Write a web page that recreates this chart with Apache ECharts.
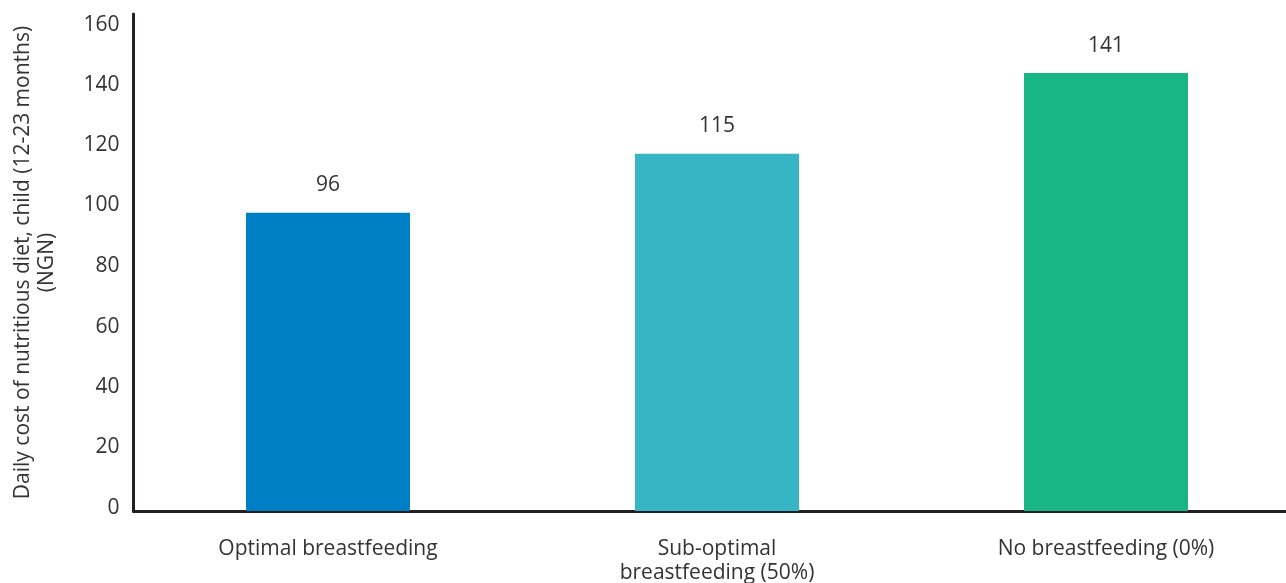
<!DOCTYPE html>
<html><head><meta charset="utf-8">
<script src="https://cdn.jsdelivr.net/npm/echarts@6/dist/echarts.min.js"></script>
<style>html,body{margin:0;padding:0;background:#fff}#c{width:1286px;height:583px}</style>
</head><body><div id="c"></div>
<script>
const categories = ['Optimal breastfeeding', 'Sub-optimal\nbreastfeeding (50%)', 'No breastfeeding (0%)'];
const values = [96, 115, 141];
const barColors = ['#0080C4', '#36B5C4', '#18B585'];
const yTicks = [0, 20, 40, 60, 80, 100, 120, 140, 160];
const yAxisTitle = 'Daily cost of nutritious diet, child (12-23 months)\n(NGN)';

const chart = echarts.init(document.getElementById('c'));
const font = '"Open Sans", "Noto Sans", sans-serif';
const step = yTicks[1] - yTicks[0];
// the reference's tick labels sit slightly compressed toward the middle; nudge each label
const rich = {};
yTicks.forEach((t, k) => {
  const d = Math.round(-3.5 + 1.75 * k);
  rich['t' + k] = {
    color: '#333', fontSize: 21, fontFamily: font,
    padding: d >= 0 ? [2 * d, 0, 0, 0] : [0, 0, -2 * d, 0]
  };
});
chart.setOption({
  animation: false,
  grid: {left: 133.5, width: 1167, top: 14, height: 497, containLabel: false, outerBoundsMode: 'none'},
  xAxis: {
    type: 'category', data: categories,
    axisLine: {lineStyle: {color: '#231F20', width: 3}},
    axisTick: {show: false},
    axisLabel: {color: '#333', fontSize: 21, fontFamily: font, margin: 26, lineHeight: 24, interval: 0}
  },
  yAxis: {
    type: 'value', min: yTicks[0], max: yTicks[yTicks.length - 1], interval: step,
    name: yAxisTitle, nameLocation: 'middle', nameGap: 74, nameRotate: 90,
    nameTextStyle: {color: '#333', fontSize: 21, fontFamily: font, lineHeight: 24},
    axisLine: {show: true, lineStyle: {color: '#231F20', width: 3}},
    axisTick: {show: false},
    splitLine: {show: false},
    axisLabel: {
      color: '#333', fontSize: 21, fontFamily: font, margin: 14,
      formatter: v => '{t' + yTicks.indexOf(v) + '|' + v + '}',
      rich: rich
    }
  },
  series: [{
    type: 'bar', barWidth: 164,
    data: values.map((v, i) => ({value: v, itemStyle: {color: barColors[i]}})),
    label: {show: true, position: 'top', distance: 17, color: '#333', fontSize: 21, fontFamily: font}
  }]
});
</script></body></html>
